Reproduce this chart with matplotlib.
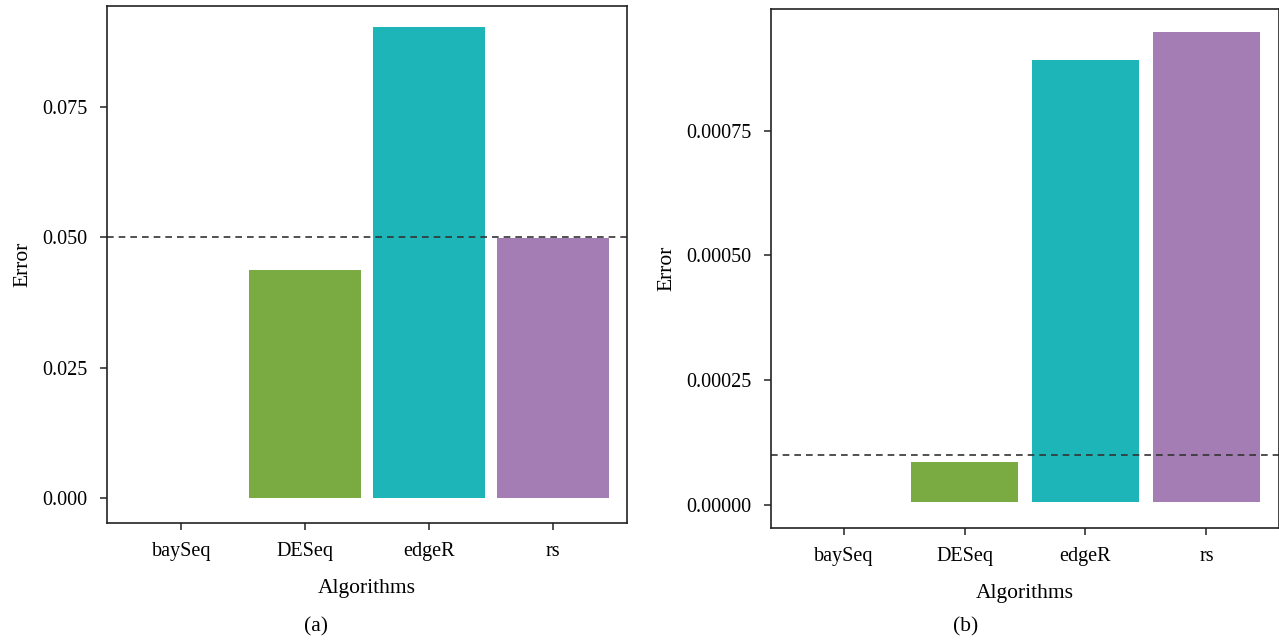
import numpy as np
import matplotlib.pyplot as plt

plt.rcParams['font.family'] = ['Liberation Serif', 'DejaVu Serif']

algorithms = ['baySeq', 'DESeq', 'edgeR', 'rs']
colors = ['#F8766D', '#7AAA42', '#1EB5B8', '#A47DB5']

# panel (a)
error_a = [0.0, 0.04375, 0.0904, 0.0499]
threshold_a = 0.05
yticks_a = [0.0, 0.025, 0.05, 0.075]
ylabels_a = ['0.000', '0.025', '0.050', '0.075']

# panel (b)
error_b = [0.0, 0.0000862, 0.000892, 0.000948]
base_b = 0.0000065
threshold_b = 0.0001
yticks_b = [0.0, 0.00025, 0.0005, 0.00075]
ylabels_b = ['0.00000', '0.00025', '0.00050', '0.00075']


def draw_panel(ax, values, base, thr, yticks, ylabels, ylim, width):
    x = np.arange(len(algorithms))
    heights = [v - base if v > 0 else 0 for v in values]
    ax.bar(x, heights, bottom=base, width=width, color=colors, linewidth=0)
    ax.axhline(thr, color='#333333', linestyle=(0, (4, 3)), linewidth=1.2)
    ax.set_xlim(-0.6, 3.6)
    ax.set_ylim(*ylim)
    ax.set_xticks(x)
    ax.set_xticklabels(algorithms, fontsize=14.5)
    ax.set_yticks(yticks)
    ax.set_yticklabels(ylabels, fontsize=14.5)
    ax.set_xlabel('Algorithms', fontsize=15.5, labelpad=13)
    ax.set_ylabel('Error', fontsize=15.5, labelpad=7)
    for s in ax.spines.values():
        s.set_linewidth(1.2)
        s.set_color('#222222')
    ax.tick_params(length=5, width=1.1, color='#222222', pad=9)


fig = plt.figure(figsize=(12.79, 6.41), dpi=100)
ax1 = fig.add_axes([0.0837, 0.1841, 0.4066, 0.8065])
ax2 = fig.add_axes([0.6028, 0.1763, 0.3972, 0.8097])

draw_panel(ax1, error_a, 0.0, threshold_a, yticks_a, ylabels_a,
           (-0.0048, 0.0944), 0.9)
draw_panel(ax2, error_b, base_b, threshold_b, yticks_b, ylabels_b,
           (-0.0000461, 0.000994), 0.88)

fig.text(316 / 1279, 0.022, '(a)', ha='center', va='center', fontsize=15.5)
fig.text(966 / 1279, 0.022, '(b)', ha='center', va='center', fontsize=15.5)

fig.savefig('out.png', dpi=100)
